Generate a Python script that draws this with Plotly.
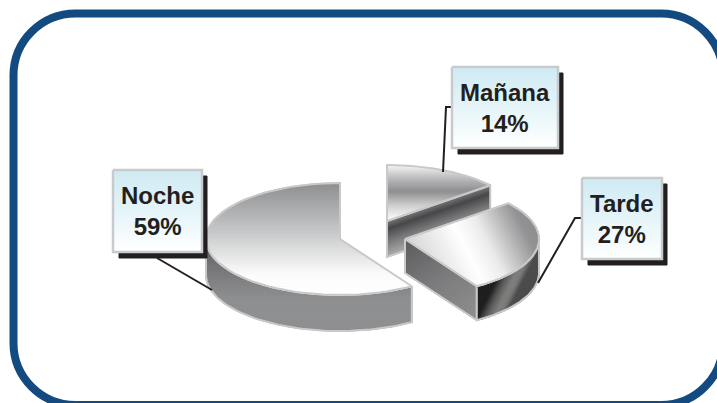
import math
import plotly.graph_objects as go

# ---- data ----
labels = ["Mañana", "Tarde", "Noche"]
values = [14, 27, 59]

# ---- geometry / style ----
W, H = 717, 403
RX, RY = 134, 56
DEPTH = {"Mañana": 36, "Tarde": 34, "Noche": 36}
CENTER = {"Mañana": (387, 221), "Tarde": (405, 239), "Noche": (340, 239)}
BOX = {"Mañana": (452, 67, 558, 148), "Tarde": (582, 178, 662, 259), "Noche": (113, 170, 202, 252)}
LEADER = {"Mañana": ([443, 446, 452], [172, 107, 107]),
          "Tarde": ([538, 575, 582], [283, 218, 218]),
          "Noche": ([157, 212], [258, 290])}
EDGE = "#c9c9c9"
INK = "#231f20"
BLUE = "#134a7f"

fig = go.Figure()


def hx(c):
    return tuple(int(c[i:i + 2], 16) for i in (1, 3, 5))


def ramp(stops, t):
    t = max(0, min(1, t))
    for (a, ca), (b, cb) in zip(stops, stops[1:]):
        if t <= b:
            f = (t - a) / (b - a) if b > a else 0
            A, B = hx(ca), hx(cb)
            return "rgb(%d,%d,%d)" % tuple(round(A[i] + (B[i] - A[i]) * f) for i in range(3))
    return stops[-1][1]


def clip(poly, n, lim, keep_above):
    out = []
    sgn = 1 if keep_above else -1
    for i, p in enumerate(poly):
        q = poly[(i + 1) % len(poly)]
        dp = sgn * (p[0] * n[0] + p[1] * n[1] - lim)
        dq = sgn * (q[0] * n[0] + q[1] * n[1] - lim)
        if dp >= 0:
            out.append(p)
        if dp * dq < 0:
            f = dp / (dp - dq)
            out.append((p[0] + (q[0] - p[0]) * f, p[1] + (q[1] - p[1]) * f))
    return out


def add_poly(poly, fill, line=None, width=1):
    xs = [p[0] for p in poly] + [poly[0][0]]
    ys = [p[1] for p in poly] + [poly[0][1]]
    fig.add_trace(go.Scatter(x=xs, y=ys, mode="lines", fill="toself", fillcolor=fill,
                             line=dict(color=line or fill, width=width),
                             hoverinfo="skip", showlegend=False))


def gradient(poly, n, s0, s1, stops, steps=44, outline=True):
    # s0 and s1 are given in the same (unnormalised) units as n
    L = math.hypot(*n)
    n = (n[0] / L, n[1] / L)
    s0, s1 = s0 / L, s1 / L
    ss = [p[0] * n[0] + p[1] * n[1] for p in poly]
    lo, hi = min(ss), max(ss)
    for k in range(steps):
        a = lo + (hi - lo) * k / steps
        b = lo + (hi - lo) * (k + 1) / steps
        piece = clip(clip(poly, n, a, True), n, b, False)
        if len(piece) >= 3:
            add_poly(piece, ramp(stops, ((a + b) / 2 - s0) / (s1 - s0)), width=1.2)
    if outline:
        xs = [p[0] for p in poly] + [poly[0][0]]
        ys = [p[1] for p in poly] + [poly[0][1]]
        fig.add_trace(go.Scatter(x=xs, y=ys, mode="lines", line=dict(color=EDGE, width=2),
                                 hoverinfo="skip", showlegend=False))


# slice angles, clockwise from 12 o'clock, all taken from the values
angles = {}
start = 0.0
for name, v in zip(labels, values):
    angles[name] = (start, start + 360.0 * v / sum(values))
    start = angles[name][1]


def pt(name, deg, dy=0):
    cx, cy = CENTER[name]
    r = math.radians(deg)
    return (cx + RX * math.sin(r), cy - RY * math.cos(r) + dy)


def arc(name, a, b, dy=0, n=70):
    return [pt(name, a + (b - a) * i / n, dy) for i in range(n + 1)]


def top_face(name):
    a, b = angles[name]
    return [CENTER[name]] + arc(name, a, b)


# --- Noche ---
a, b = angles["Noche"]
d = DEPTH["Noche"]
front = arc("Noche", a, 270)
gradient(front + [(x, y + d) for x, y in reversed(front)], (0, 1), 248, 300,
         [(0, "#5f5f61"), (0.35, "#747476"), (1, "#8e8f91")])
gradient(top_face("Noche"), (0, 1), 183, 295,
         [(0, "#8d8e90"), (0.5, "#cfd0d1"), (0.82, "#fbfbfb"), (1, "#ffffff")])

# --- Mañana ---
a, b = angles["Mañana"]
d = DEPTH["Mañana"]
c = CENTER["Mañana"]
tip = pt("Mañana", b)
wall = [c, tip, (tip[0], tip[1] + d), (c[0], c[1] + d)]
slope = (tip[1] - c[1]) / (tip[0] - c[0])
nrm = (-slope, 1)
s0 = -slope * c[0] + c[1]
s1 = s0 + d
gradient(wall, nrm, s0 - 2, s1,
         [(0, "#88888a"), (0.28, "#48484a"), (0.6, "#77777a"), (1, "#ababab")])
gradient(top_face("Mañana"), (0, 1), 166, 220,
         [(0, "#f4f4f4"), (0.25, "#b8b8ba"), (0.48, "#8e8e90"), (0.75, "#d0d0d0"), (1, "#fbfbfb")])

# --- Tarde ---
a, b = angles["Tarde"]
d = DEPTH["Tarde"]
c = CENTER["Tarde"]
end = pt("Tarde", b)
wall = [c, end, (end[0], end[1] + d), (c[0], c[1] + d)]
gradient(wall, (0.6, 0.8), 0.6 * c[0] + 0.8 * c[1], 0.6 * end[0] + 0.8 * (end[1] + d),
         [(0, "#5c5c5e"), (0.5, "#7c7c7e"), (1, "#8f8f8f")])
outer = arc("Tarde", 90, b)
gradient(outer + [(x, y + d) for x, y in reversed(outer)], (1, 0.5), 477 + 0.5 * 320, 539 + 0.5 * 250,
         [(0, "#1f1f1f"), (0.3, "#5a5a5a"), (0.6, "#7e7e7c"), (0.8, "#7a7a7a"), (1, "#4c4c4e")])
gradient(top_face("Tarde"), (1, -0.5), c[0] - 0.5 * c[1], c[0] + 135 - 0.5 * c[1],
         [(0, "#d4d4d4"), (0.42, "#ffffff"), (0.6, "#ececec"), (0.92, "#939395"), (1, "#8f8f91")])

# --- leaders, callouts ---
for name, v in zip(labels, values):
    lx, ly = LEADER[name]
    fig.add_trace(go.Scatter(x=lx, y=ly, mode="lines", line=dict(color=INK, width=2),
                             hoverinfo="skip", showlegend=False))
    x0, y0, x1, y1 = BOX[name]
    add_poly([(x0 + 6, y0 + 6), (x1 + 5, y0 + 6), (x1 + 5, y1 + 6), (x0 + 6, y1 + 6)], INK)
    rect = [(x0, y0), (x1, y0), (x1, y1), (x0, y1)]
    gradient(rect, (0, 1), y0, y1, [(0, "#cfeaf3"), (0.45, "#e2f3f8"), (1, "#ffffff")], steps=81, outline=False)
    fig.add_trace(go.Scatter(x=[p[0] for p in rect] + [x0], y=[p[1] for p in rect] + [y0], mode="lines",
                             line=dict(color="#c8cbcd", width=2.5), hoverinfo="skip", showlegend=False))
    fig.add_annotation(x=(x0 + x1) / 2, y=(y0 + y1) / 2, text=f"<b>{name}<br>{v}%</b>", showarrow=False,
                       xref="x", yref="y", align="center",
                       font=dict(family="Liberation Sans, Arial, sans-serif", size=24, color=INK))

# --- frame ---
L, T, R, B, r = 13.5, 13.5, 723, 405, 62
k = r * 0.448
fig.add_shape(type="path", xref="x", yref="y", line=dict(color=BLUE, width=8),
              path=(f"M {L + r} {T} L {R - r} {T} C {R - k} {T} {R} {T + k} {R} {T + r} "
                    f"L {R} {B - r} C {R} {B - k} {R - k} {B} {R - r} {B} "
                    f"L {L + r} {B} C {L + k} {B} {L} {B - k} {L} {B - r} "
                    f"L {L} {T + r} C {L} {T + k} {L + k} {T} {L + r} {T} Z"))

fig.update_layout(width=W, height=H, margin=dict(l=0, r=0, t=0, b=0), showlegend=False,
                  paper_bgcolor="white", plot_bgcolor="white",
                  xaxis=dict(range=[0, W], visible=False, fixedrange=True),
                  yaxis=dict(range=[H, 0], visible=False, fixedrange=True))
fig.write_html("out.html", config={"displayModeBar": False},
               post_script="document.body.style.margin='0';document.documentElement.style.overflow='hidden';")
